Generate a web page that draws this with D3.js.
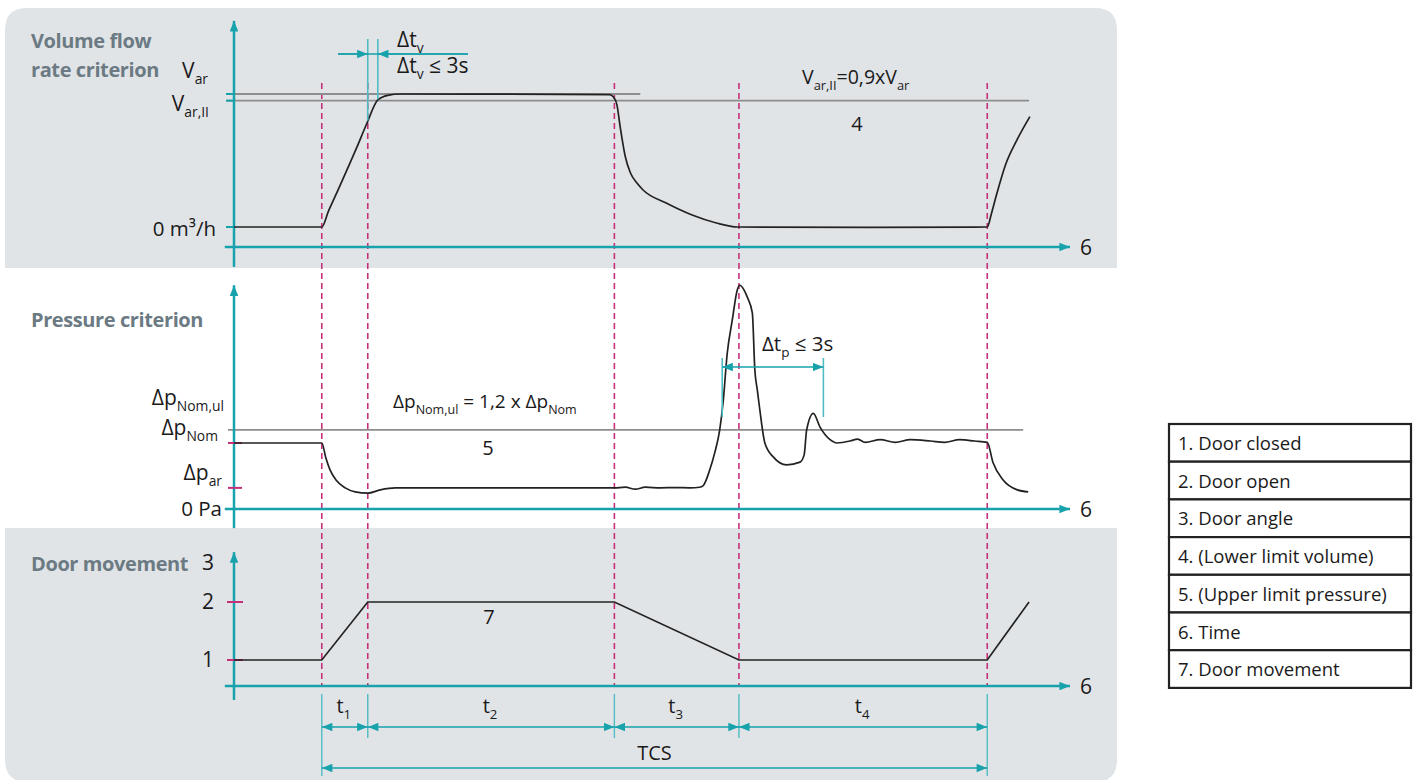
<!DOCTYPE html>
<html>
<head>
<meta charset="utf-8">
<script src="https://cdn.jsdelivr.net/npm/d3@7"></script>
<style>
  body { margin: 0; background: #fff; }
  text { font-family: "Open Sans", sans-serif; fill: #1a1a1a; }
  .title { font-weight: 700; fill: #6b7a83; font-size: 20px; letter-spacing: -0.4px; }
</style>
</head>
<body>
<svg id="chart" width="1416" height="780"></svg>
<script>
// Event times (door starts opening, fully open, starts closing, closed, next opening)
const eventTimes = [10.5, 16.0, 45.5, 60.4, 90.1];
const phaseNames = ["1", "2", "3", "4"];

// Volume flow rate, % of V_ar
const volTime  = [0, 10.5, 11.3, 12.6, 14.7, 15.9, 17.2, 18.4, 19.9, 44.9, 45.4, 45.8, 46.2, 46.8, 47.4, 48.2, 48.9, 51.7, 54.8, 57.7, 60.2, 76.1, 90.1, 90.6, 91.2, 92.3, 93.7, 95.2];
const volValue = [0, 0, 12, 30, 60, 78, 95.5, 99, 100, 99.6, 97.7, 92, 75, 53, 41, 33, 28, 18, 9, 3, 0, -0.3, 0, 10, 24, 47, 66, 83];

// Pressure, % of Δp_Nom
const presTime  = [0, 10.5, 11.0, 11.5, 12.2, 13.3, 14.5, 16.0, 17.5, 19.3, 45.5, 46.8, 48.0, 49.2, 51.0, 52.8, 54.5, 55.7, 56.1, 56.9, 57.5, 58.1, 58.5, 59.0, 59.6, 60.2, 60.5, 61.0, 61.4, 62.0, 62.3, 62.6, 62.9, 63.5, 64.5, 66.1, 67.7, 68.2, 68.5, 69.3, 70.1, 71.3, 72.1, 73.7, 74.6, 75.5, 77.3, 79.1, 80.9, 83.3, 85.0, 86.8, 88.6, 90.1, 90.8, 92.0, 93.7, 95.0];
const presValue = [100, 100, 77, 59, 44, 32, 26, 24, 29, 32, 32, 33, 30, 33, 32, 32.5, 32, 33, 35, 59, 85, 120, 161, 236, 286, 332, 339, 332, 321, 297, 211, 180, 150, 100, 79, 67, 71, 82, 120, 145, 124, 105, 100, 103, 106, 101, 105, 101, 105, 103, 101, 105, 103, 101, 70, 44, 29, 26];

// Door movement (1 = closed, 2 = open)
const doorTime  = [0, 10.5, 16.0, 45.5, 60.4, 90.1, 95.1];
const doorValue = [1, 1, 2, 2, 1, 1, 2];

// Reference levels
const volLevels  = { ar: 100, arII: 95 };
const presLevels = { nom: 100, ar: 32, ul: 120 };

// Tolerance windows
const dtV = [16.0, 17.2];
const dtP = [58.4, 70.5];

const legendItems = ["1. Door closed", "2. Door open", "3. Door angle", "4. (Lower limit volume)",
                     "5. (Upper limit pressure)", "6. Time", "7. Door movement"];

const TEAL = "#17a2ac", TEAL_LIGHT = "#4fbcc3", MAGENTA = "#c4317a", GREY = "#8d8d8d", INK = "#222";

const svg = d3.select("#chart");

// Scales
const x = d3.scaleLinear().domain([0, 100]).range([234, 1070]);
const yV = d3.scaleLinear().domain([0, 100]).range([227, 94]);
const yP = d3.scaleLinear().domain([0, 100]).range([509, 443]);
const yD = d3.scaleLinear().domain([1, 2]).range([660, 602]);

// Panels
svg.append("path").attr("fill", "#e1e4e7")
  .attr("d", "M5,268 V30 Q5,8 27,8 H1095 Q1117,8 1117,30 V268 Z");
svg.append("path").attr("fill", "#e1e4e7")
  .attr("d", "M5,528 H1117 V760 Q1117,782 1095,782 H27 Q5,782 5,760 Z");

// Arrow marker
const defs = svg.append("defs");
defs.append("marker").attr("id", "arr")
  .attr("viewBox", "0 0 10 8").attr("refX", 10).attr("refY", 4)
  .attr("markerWidth", 11).attr("markerHeight", 8.5)
  .attr("markerUnits", "userSpaceOnUse").attr("orient", "auto-start-reverse")
  .append("path").attr("d", "M0,0 L10,4 L0,8 Z").attr("fill", TEAL);

function rich(g, px, py, parts, size, anchor) {
  const t = g.append("text").attr("x", px).attr("y", py)
    .attr("text-anchor", anchor || "start").style("font-size", size + "px");
  let shift = 0;
  parts.forEach(p => {
    const str = Array.isArray(p) ? p[0] : p;
    const sub = Array.isArray(p);
    const target = sub ? size * 0.3 : 0;
    t.append("tspan").attr("dy", target - shift)
      .style("font-size", (sub ? size * 0.66 : size) + "px").text(str);
    shift = target;
  });
  return t;
}

function panelAxes(ys, xAt, yFrom, yTo) {
  svg.append("line").attr("x1", x(-1.1)).attr("x2", x(100))
    .attr("y1", ys(xAt)).attr("y2", ys(xAt))
    .attr("stroke", TEAL).attr("stroke-width", 2.5).attr("marker-end", "url(#arr)");
  svg.append("line").attr("x1", x(0)).attr("x2", x(0))
    .attr("y1", ys(yFrom)).attr("y2", ys(yTo))
    .attr("stroke", TEAL).attr("stroke-width", 2.5).attr("marker-end", "url(#arr)");
  svg.append("text").attr("x", x(100) + 10).attr("y", ys(xAt) + 8).style("font-size", "21px").text("6");
}

function tick(ys, v, x0, x1, color) {
  svg.append("line").attr("x1", x0).attr("x2", x1).attr("y1", ys(v)).attr("y2", ys(v))
    .attr("stroke", color).attr("stroke-width", 2);
}

// Dashed event lines
svg.append("g").selectAll("line").data(eventTimes).join("line")
  .attr("x1", d => x(d)).attr("x2", d => x(d))
  .attr("y1", 83).attr("y2", yD(0.55))
  .attr("stroke", MAGENTA).attr("stroke-width", 1.6).attr("stroke-dasharray", "6,4");

// ---------- Volume flow panel ----------
svg.append("text").attr("class", "title").attr("x", 31).attr("y", 48).text("Volume flow");
svg.append("text").attr("class", "title").attr("x", 31).attr("y", 77).text("rate criterion");

svg.append("line").attr("x1", 227).attr("x2", x(48.6)).attr("y1", yV(volLevels.ar)).attr("y2", yV(volLevels.ar))
  .attr("stroke", GREY).attr("stroke-width", 1.8);
svg.append("line").attr("x1", 227).attr("x2", x(95.1)).attr("y1", yV(volLevels.arII)).attr("y2", yV(volLevels.arII))
  .attr("stroke", GREY).attr("stroke-width", 1.8);
panelAxes(yV, -15, -30, 155);
[volLevels.ar, volLevels.arII, 0].forEach(v => tick(yV, v, 226, 234, TEAL));

svg.append("path").datum(volTime.map((t, i) => [t, volValue[i]]))
  .attr("fill", "none").attr("stroke", INK).attr("stroke-width", 1.7)
  .attr("d", d3.line().x(d => x(d[0])).y(d => yV(d[1])).curve(d3.curveMonotoneX));

const gl = svg.append("g");
rich(gl, 208, 78, ["V", ["ar"]], 21, "end");
rich(gl, 209, 111, ["V", ["ar,II"]], 21, "end");
gl.append("text").attr("x", 216).attr("y", 236).attr("text-anchor", "end").style("font-size", "20.5px").text("0 m³/h");
rich(gl, 802, 84, ["V", ["ar,II"], "=0,9xV", ["ar"]], 19.5);
gl.append("text").attr("x", 857).attr("y", 131).attr("text-anchor", "middle").style("font-size", "20px").text("4");

// Δt_v window
svg.append("line").attr("x1", x(dtV[0])).attr("x2", x(dtV[0])).attr("y1", 39).attr("y2", yV(80))
  .attr("stroke", TEAL_LIGHT).attr("stroke-width", 1.6);
svg.append("line").attr("x1", x(dtV[1])).attr("x2", x(dtV[1])).attr("y1", 39).attr("y2", yV(96))
  .attr("stroke", TEAL_LIGHT).attr("stroke-width", 1.6);
svg.append("line").attr("x1", 338).attr("x2", 468).attr("y1", 54).attr("y2", 54)
  .attr("stroke", TEAL).attr("stroke-width", 1.5);
svg.append("line").attr("x1", 338).attr("x2", x(dtV[0])).attr("y1", 54).attr("y2", 54)
  .attr("stroke", TEAL).attr("stroke-width", 1.5).attr("marker-end", "url(#arr)");
svg.append("line").attr("x1", 468).attr("x2", x(dtV[1])).attr("y1", 54).attr("y2", 54)
  .attr("stroke", TEAL).attr("stroke-width", 1.5).attr("marker-end", "url(#arr)");
rich(gl, 397, 47, ["Δt", ["v"]], 21);
rich(gl, 397, 73, ["Δt", ["v"], " ≤ 3s"], 21);

// ---------- Pressure panel ----------
svg.append("text").attr("class", "title").attr("x", 31).attr("y", 327).text("Pressure criterion");

svg.append("line").attr("x1", 228).attr("x2", x(94.4)).attr("y1", yP(presLevels.ul)).attr("y2", yP(presLevels.ul))
  .attr("stroke", GREY).attr("stroke-width", 1.8);
panelAxes(yP, 0, -29, 339);
[presLevels.nom, presLevels.ar].forEach(v => tick(yP, v, 228, 242, MAGENTA));

svg.append("path").datum(presTime.map((t, i) => [t, presValue[i]]))
  .attr("fill", "none").attr("stroke", INK).attr("stroke-width", 1.7)
  .attr("d", d3.line().x(d => x(d[0])).y(d => yP(d[1])).curve(d3.curveMonotoneX));

rich(gl, 224, 405, ["Δp", ["Nom,ul"]], 21, "end");
rich(gl, 218, 435, ["Δp", ["Nom"]], 21, "end");
rich(gl, 222, 480, ["Δp", ["ar"]], 21, "end");
gl.append("text").attr("x", 222).attr("y", 516).attr("text-anchor", "end").style("font-size", "20.5px").text("0 Pa");
rich(gl, 393, 408, ["Δp", ["Nom,ul"], " = 1,2 x Δp", ["Nom"]], 19);
gl.append("text").attr("x", 488).attr("y", 455).attr("text-anchor", "middle").style("font-size", "20px").text("5");

// Δt_p window
[dtP[0], dtP[1]].forEach(t => {
  svg.append("line").attr("x1", x(t)).attr("x2", x(t)).attr("y1", 358).attr("y2", 417)
    .attr("stroke", TEAL_LIGHT).attr("stroke-width", 1.6);
});
svg.append("line").attr("x1", x(dtP[0])).attr("x2", x(dtP[1])).attr("y1", 367).attr("y2", 367)
  .attr("stroke", TEAL).attr("stroke-width", 1.5)
  .attr("marker-start", "url(#arr)").attr("marker-end", "url(#arr)");
rich(gl, 762, 351, ["Δt", ["p"], " ≤ 3s"], 20.5);

// ---------- Door movement panel ----------
svg.append("text").attr("class", "title").attr("x", 31).attr("y", 571).text("Door movement");

panelAxes(yD, 0.55, 0.31, 2.86);
[1, 2].forEach(v => tick(yD, v, 227, 243, MAGENTA));
gl.append("text").attr("x", 208).attr("y", yD(2.68) + 7).attr("text-anchor", "middle").style("font-size", "21px").text("3");
[1, 2].forEach(v => gl.append("text").attr("x", 208).attr("y", yD(v) + 7)
  .attr("text-anchor", "middle").style("font-size", "21px").text(v));

svg.append("path").datum(doorTime.map((t, i) => [t, doorValue[i]]))
  .attr("fill", "none").attr("stroke", INK).attr("stroke-width", 1.7)
  .attr("d", d3.line().x(d => x(d[0])).y(d => yD(d[1])));
gl.append("text").attr("x", 489).attr("y", 624).attr("text-anchor", "middle").style("font-size", "20px").text("7");

// Phase dimension lines
svg.append("g").selectAll("line").data(eventTimes).join("line")
  .attr("x1", d => x(d)).attr("x2", d => x(d))
  .attr("y1", 694).attr("y2", (d, i) => (i === 0 || i === eventTimes.length - 1) ? 776 : 738)
  .attr("stroke", TEAL_LIGHT).attr("stroke-width", 1.4);
phaseNames.forEach((n, i) => {
  const a = eventTimes[i], b = eventTimes[i + 1];
  svg.append("line").attr("x1", x(a)).attr("x2", x(b)).attr("y1", 727).attr("y2", 727)
    .attr("stroke", TEAL).attr("stroke-width", 1.5)
    .attr("marker-start", "url(#arr)").attr("marker-end", "url(#arr)");
  rich(gl, x((a + b) / 2) - 1, 713, ["t", [n]], 20, "middle");
});
svg.append("line").attr("x1", x(eventTimes[0])).attr("x2", x(eventTimes[4])).attr("y1", 768).attr("y2", 768)
  .attr("stroke", TEAL).attr("stroke-width", 1.5)
  .attr("marker-start", "url(#arr)").attr("marker-end", "url(#arr)");
gl.append("text").attr("x", x((eventTimes[0] + eventTimes[4]) / 2)).attr("y", 760)
  .attr("text-anchor", "middle").style("font-size", "20px").text("TCS");

// ---------- Legend ----------
const lg = svg.append("g").attr("transform", "translate(1169,424)");
const rowH = 37.7;
lg.selectAll("rect").data(legendItems).join("rect")
  .attr("x", 0).attr("y", (d, i) => i * rowH).attr("width", 242).attr("height", rowH)
  .attr("fill", "#fff").attr("stroke", "#222").attr("stroke-width", 2.2);
lg.selectAll("text").data(legendItems).join("text")
  .attr("x", 9).attr("y", (d, i) => i * rowH + 26)
  .style("font-size", "18.5px").text(d => d);
</script>
</body>
</html>
